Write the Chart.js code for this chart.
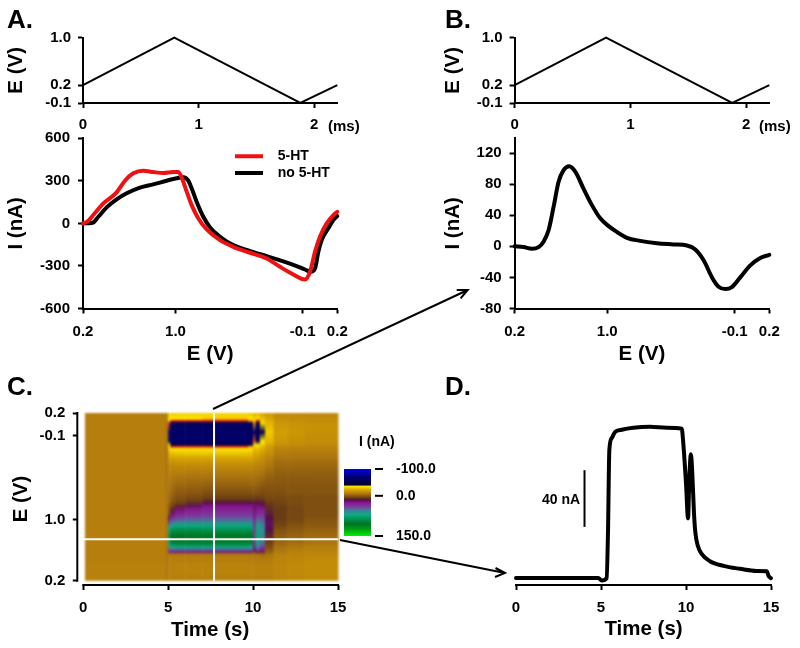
<!DOCTYPE html>
<html>
  <head>
    <title>5-HT voltammetry</title>
    <style>
      html, body { margin: 0; padding: 0; background: #fff; }
      #page { position: relative; width: 800px; height: 648px; overflow: hidden; font-family: "Liberation Sans", sans-serif; font-weight: bold; color: #000; }
      canvas { position: absolute; }
      .lab { position: absolute; white-space: pre; line-height: 1; }
      .panel { font-size: 26px; }
      .small { font-size: 14px; }
      .unit { font-size: 15px; }
      .title { font-size: 20.5px; }
      svg { position: absolute; left: 0; top: 0; }
    </style>
  </head>
  <body>
    <div id="page">
      <canvas id="aTop"></canvas>
      <canvas id="aMain"></canvas>
      <canvas id="bTop"></canvas>
      <canvas id="bMain"></canvas>
      <canvas id="cHeat"></canvas>
      <canvas id="cBar"></canvas>
      <canvas id="dTrace"></canvas>
      <svg width="800" height="648" fill="none" stroke="#000" stroke-width="2">
        <path d="M213 409L467.7 290M456.7 290L467.7 290L460.6 298.4"/>
        <path d="M340 540L505 573M495.5 568L505 573L495 577"/>
      </svg>
      <div class="lab panel" style="left:7px;top:6px">A.</div>
      <div class="lab panel" style="left:445px;top:6px">B.</div>
      <div class="lab panel" style="left:7px;top:373px">C.</div>
      <div class="lab panel" style="left:445px;top:373px">D.</div>
      <div class="lab unit" style="left:328px;top:118px">(ms)</div>
      <div class="lab unit" style="left:759px;top:118px">(ms)</div>
      <div class="lab small" style="left:359px;top:434px">I (nA)</div>
      <div class="lab small" style="left:542px;top:492px">40 nA</div>
      <div class="lab title" style="left:171px;top:619px">Time (s)</div>
    </div>
    <script src="https://cdn.jsdelivr.net/npm/chart.js"></script>
    <script>
// waveform, time in ms
const waveTime = [0, 0.79, 1.88, 2.2];
const waveE = [0.2, 1.0, -0.1, 0.2];

// panel A, cyclic voltammograms
const cvTimeRed = [0, .037, .089, .176, .291, .363, .435, .522, .608, .695, .781, .825, .862, .897, .94, .998, 1.07, 1.185, 1.3, 1.445, 1.589, 1.704, 1.82, 1.92, 1.964, 2.007, 2.05, 2.108, 2.166, 2.2];
const cvRed = [0, 12, 59, 141, 219, 301, 353, 372, 362, 355, 362, 362, 306, 224, 129, 35, -42, -118, -165, -207, -247, -306, -360, -395, -341, -200, -94, 0, 59, 82];
const cvTimeBlack = [0, .084, .133, .205, .291, .378, .493, .608, .724, .81, .868, .911, .94, .983, 1.041, 1.099, 1.185, 1.3, 1.445, 1.589, 1.733, 1.848, 1.92, 1.972, 2.007, 2.036, 2.065, 2.122, 2.166, 2.2];
const cvBlack = [0, 5, 47, 113, 169, 212, 252, 275, 301, 318, 325, 301, 247, 153, 47, -28, -94, -153, -195, -231, -268, -301, -325, -341, -318, -200, -118, -35, 24, 52];

// panel B, background subtracted
const diffTime = [0, .078, .15, .207, .25, .294, .337, .38, .423, .472, .524, .596, .668, .74, .812, .884, .97, 1.085, 1.229, 1.373, 1.489, 1.561, 1.633, 1.705, 1.762, 1.82, 1.877, 1.949, 2.036, 2.122, 2.2];
const diffI = [0, -1, -3, -1, 6, 21, 51, 83, 98, 103, 96, 74, 53, 36, 26, 18.5, 11, 7, 4, 2.5, 1, -4, -18, -40, -52, -55, -52.5, -40, -24.5, -15, -11];

// panel D, current vs time
const traceTime = [0, 1.8, 3.76, 4.84, 5.04, 5.33, 5.41, 5.49, 5.63, 5.82, 6.22, 6.9, 7.88, 8.86, 9.75, 9.84, 10, 10.12, 10.2, 10.29, 10.37, 10.47, 10.55, 10.7, 10.92, 11.41, 12.2, 13.18, 14.16, 14.75, 14.86, 15];
const traceI = [0, 0, 0, 0, -1.9, -.2, 31.5, 90, 98.6, 102.8, 104.5, 105.9, 106.6, 105.9, 105.2, 95, 66.8, 42, 71.5, 87.3, 73.9, 45.6, 32, 22.5, 17, 11.8, 8.5, 6.4, 4.9, 4.7, 1.4, -.2];
const scaleBarTime = [4.03, 4.03];
const scaleBarI = [36, 76];

// panel C, color plot: current at each sweep position (ms, top to bottom), one list per time slice
const heatSweep = [2.2, 2.16, 2.12, 2.1, 2.07, 1.95, 1.83, 1.78, 1.76, 1.73, 1.68, 1.61, 1.52, 1.39, 1.26, 1.15, 1.07, 1.02, .98, .93, .87, .82, .77, .72, .665, .6, .53, .48, .44, .4, .375, .35, .3, .2, .1, 0];
const heatEdges = [0.1, 4.85, 5, 5.12, 5.4, 6, 7, 9.7, 10, 10.15, 10.4, 10.7, 11.2, 12, 13, 15];
const colBase = [-10, -10, -10, -10, -10, -10, -10, -10, -10, -10, -10, -10, -10, -10, -10, -10, -10, -10, -10, -10, -10, -10, -10, -10, -10, -10, -10, -10, -10, -10, -10, -10, -10, -11, -11, -11];
const colEdge = [-12, -11, -10, -9, -8, -7, -7, -7, -7, -7, -7, -7, -7, -7, -7, -7, -7, -7, -7, -7, -7, -7, -7, -7, -7, -7, -7, -7, -7, -7, -7, -7, -7, -8, -8, -8];
const colOn1 = [-30, -33, -35, -36, -38.5, -62, -55, -36, -34, -31, -26, -20, -14, -10, -8, -6, -4, -2, 0, 3, 8, 15, 30, 55, 75, 88, 85, 75, 60, 40, 20, -8, -10, -11, -11, -10];
const colOn2 = [-30, -33, -36, -38.5, -58, -65, -65, -50, -38.5, -35, -29, -21, -14, -9, -6, -3, 0, 3, 6, 12, 22, 36, 52, 70, 88, 104, 106, 92, 70, 45, 24, -8, -10, -11, -11, -10];
const colOn3 = [-30, -33, -36, -38.5, -60, -66, -66, -52, -38.5, -36, -30, -22, -15, -9, -4, 0, 3, 6, 12, 22, 32, 42, 56, 72, 90, 106, 108, 94, 72, 45, 23, -8, -10, -12, -12, -10];
const colOn4 = [-30, -33, -36, -38.5, -60, -66, -66, -52, -38.5, -36, -30, -22, -15, -8, -3, 1, 5, 10, 18, 28, 36, 44, 58, 72, 90, 108, 108, 95, 72, 45, 22, -8, -10, -12, -12, -10];
const colPlateau = [-30, -33, -36.5, -38.5, -60, -66, -66, -52, -38.5, -36, -30, -22, -15, -8, -2, 3, 8, 15, 25, 30, 38, 45, 58, 72, 88, 108, 108, 95, 72, 45, 22, -8, -10, -12, -12, -10];
const colOff1 = [-29, -32, -35, -37, -58, -64, -64, -45, -37, -34, -29, -22, -15, -8, -3, 3, 8, 15, 25, 30, 38, 45, 58, 72, 88, 106, 106, 92, 70, 44, 20, -8, -10, -12, -12, -10];
const colNotch = [-25, -28, -31, -34, -37, -60, -38, -34, -30, -26, -22, -18, -13, -7, -3, 2, 8, 14, 18, 20, 22, 26, 30, 34, 36, 36, 34, 30, 24, 14, 4, -6, -9, -11, -11, -10];
const colLobe = [-27, -30, -35, -38.5, -60, -66, -60, -36, -32, -28, -24, -18, -13, -7, -2, 3, 9, 15, 22, 28, 35, 45, 60, 68, 72, 74, 72, 66, 55, 38, 18, -7, -9, -11, -11, -10];
const colTip = [-22, -25, -28, -30, -34, -50, -36, -30, -27, -24, -20, -16, -12, -6, 0, 4, 8, 14, 20, 28, 36, 42, 50, 56, 58, 58, 54, 48, 38, 24, 10, -5, -8, -11, -11, -10];
const colHalo = [-18, -20, -22, -24, -26, -30, -26, -22, -20, -18, -16, -12, -8, -3, 1, 3, 5, 8, 10, 11, 13, 15, 17, 17, 15, 12, 8, 6, 3, 0, -3, -6, -9, -11, -11, -10];
const colFade = [-14, -15, -16, -17, -18, -20, -18, -16, -14, -12, -10, -7, -4, -1, 1, 3, 5, 6, 7, 8, 8, 8, 7, 5, 2, 0, -2, -4, -6, -8, -9, -11, -12, -13, -13, -12];
const colFade2 = [-14, -15, -15, -16, -17, -18, -16, -15, -13, -11, -9, -7, -4, -1, 1, 2, 4, 4, 5, 5, 5, 5, 4, 2, 0, -2, -4, -6, -8, -10, -11, -12, -13, -14, -14, -13];
const colLate = [-14, -14, -15, -15, -16, -16, -15, -14, -12, -11, -9, -7, -4, -1, 1, 2, 3, 3, 3, 3, 3, 2, 1, 0, -2, -4, -6, -8, -10, -11, -12, -13, -14, -15, -15, -14];
const heatCols = [colBase, colEdge, colOn1, colOn2, colOn3, colOn4, colPlateau, colOff1, colNotch, colLobe, colTip, colHalo, colFade, colFade2, colLate];
const crossTime = 7.7;
const crossSweep = 0.543;

// color scale
const barLevels = [-100, -70, -45, -39, -38.5, -36, -25, -15, -8, 0, 8, 15, 25, 40, 55, 70, 85, 105, 125, 150];
const barColors = ['#0000eb', '#00006e', '#000040', '#0a0528', '#eb1e0a', '#ffeb00', '#e1af00', '#c38c08', '#af780f', '#8c5a0f', '#693c14', '#550f4b', '#87148c', '#7d3ca0', '#3c8296', '#0faa82', '#00965a', '#007323', '#00a014', '#00f000'];
const barTicks = [-100, 0, 150];
const barLabels = ['-100.0', '0.0', '150.0'];

function pts(xs, ys) { return xs.map((x, i) => ({x: x, y: ys[i]})); }

function colorOf(v) {
  if (v <= barLevels[0]) return barColors[0];
  for (let i = 1; i < barLevels.length; i++) {
    if (v <= barLevels[i]) {
      const f = (v - barLevels[i-1]) / (barLevels[i] - barLevels[i-1]);
      const a = barColors[i-1], b = barColors[i];
      let rgb = [1, 3, 5].map(k => {
        const c0 = parseInt(a.substr(k, 2), 16), c1 = parseInt(b.substr(k, 2), 16);
        return Math.round(c0 + (c1 - c0) * f);
      });
      return 'rgb(' + rgb.join(',') + ')';
    }
  }
  return barColors[barColors.length-1];
}

Chart.defaults.font.family = '"Liberation Sans", sans-serif';
Chart.defaults.color = '#000';
Chart.defaults.animation = false;

const tickFont = {size: 15, weight: 'bold'};
const titleFont = {size: 20.5, weight: 'bold'};

function line(xs, ys, color, width, label) {
  return {
    label: label, data: pts(xs, ys), showLine: true, borderColor: color, backgroundColor: color,
    borderWidth: width, pointRadius: 0, cubicInterpolationMode: 'monotone', clip: false,
    borderJoinStyle: 'round', borderCapStyle: 'round'
  };
}

function straight(xs, ys, color, width) {
  return Object.assign(line(xs, ys, color, width), {cubicInterpolationMode: 'default', tension: 0, borderJoinStyle: 'miter', borderCapStyle: 'butt'});
}

function axis(o, fitWidth, fitHeight) {
  const s = {
    type: 'linear', min: o.min, max: o.max, display: true,
    border: {display: o.border !== false, color: '#000', width: 2},
    grid: {drawOnChartArea: false, tickLength: o.tickLength || 5, tickColor: '#000', tickWidth: 2, display: !!o.ticks},
    ticks: {display: !!o.ticks, font: tickFont, padding: o.pad || 8, autoSkip: false, maxRotation: 0, callback: (v, i) => o.labels ? o.labels[i] : ''},
    afterBuildTicks: a => { if (o.ticks) a.ticks = o.ticks.map(v => ({value: v})); },
    afterFit: a => { if (fitWidth !== null) a.width = fitWidth; if (fitHeight !== null) a.height = fitHeight; }
  };
  if (o.title) s.title = {display: true, text: o.title, font: titleFont, padding: 4};
  return s;
}

// box and area are page pixels: [left, top, width, height] and [left, top, right, bottom]
// the box needs room around the area, the scales ask for tick padding + half a label
function panel(id, box, area, datasets, xo, yo, extra) {
  const c = document.getElementById(id);
  c.width = box[2]; c.height = box[3];
  c.style.left = box[0] + 'px'; c.style.top = box[1] + 'px';
  const legend = extra && extra.legend ? extra.legend : {display: false};
  return new Chart(c, {
    type: 'scatter',
    data: {datasets: datasets},
    options: {
      responsive: false,
      layout: {padding: {left: 0, top: area[1] - box[1], right: box[0] + box[2] - area[2], bottom: 0}},
      scales: {
        x: axis(xo, null, box[1] + box[3] - area[3]),
        y: axis(yo, area[0] - box[0], null)
      },
      plugins: {legend: legend, tooltip: {enabled: false}}
    },
    plugins: extra && extra.plugins ? extra.plugins : []
  });
}

// panel A
const msTicks = {min: 0, max: 2.2, ticks: [0, 1, 2], labels: ['0', '1', '2'], pad: 8};
const eTicks = {min: -0.1, max: 1.0, ticks: [-0.1, 0.2, 1.0], labels: ['-0.1', '0.2', '1.0'], title: 'E (V)', pad: 7};
const sweepTicks = [0, 0.8, 1.9, 2.2];
const sweepLabels = ['0.2', '1.0', '-0.1', '0.2'];

panel('aTop', [0, 15, 400, 125], [83, 37.7, 337.3, 103],
  [straight(waveTime, waveE, '#000', 2)], msTicks, eTicks);

// legend sits at a fixed spot inside the plot
const moveLegend = {
  id: 'moveLegend',
  afterLayout(chart) {
    const lg = chart.legend;
    lg.left = 232.2; lg.top = 28.5; lg.right = 400; lg.bottom = 180;
  }
};
panel('aMain', [0, 118, 400, 253], [83, 138.3, 337.3, 308.5],
  [line(cvTimeRed, cvRed, '#ee1111', 4, '5-HT'), line(cvTimeBlack, cvBlack, '#000', 4, 'no 5-HT')],
  {min: 0, max: 2.2, ticks: sweepTicks, labels: sweepLabels, title: 'E (V)', pad: 9},
  {min: -600, max: 600, ticks: [-600, -300, 0, 300, 600], labels: ['-600', '-300', '0', '300', '600'], title: 'I (nA)'},
  {
    plugins: [moveLegend],
    legend: {
      display: true, position: 'chartArea', align: 'start',
      labels: {
        boxWidth: 28, boxHeight: 4, padding: 2.8, font: {size: 14, weight: 'bold'},
        generateLabels: ch => Chart.defaults.plugins.legend.labels.generateLabels(ch).map(l => Object.assign(l, {text: '  ' + l.text, lineWidth: 0}))
      }
    }
  });

// panel B
panel('bTop', [436.7, 15, 363, 125], [514.3, 37.7, 769, 103],
  [straight(waveTime, waveE, '#000', 2)], msTicks, eTicks);
panel('bMain', [436.7, 118, 363, 253], [514.3, 138.3, 769, 308.5],
  [line(diffTime, diffI, '#000', 4)],
  {min: 0, max: 2.2, ticks: sweepTicks, labels: sweepLabels, title: 'E (V)', pad: 9},
  {min: -80, max: 139, ticks: [-80, -40, 0, 40, 80, 120], labels: ['-80', '-40', '0', '40', '80', '120'], title: 'I (nA)'});

// panel C
const heatmap = {
  id: 'heatmap',
  beforeDatasetsDraw(chart) {
    const {ctx, scales: {x, y}} = chart;
    const top = y.getPixelForValue(heatSweep[0]);
    const bot = y.getPixelForValue(heatSweep[heatSweep.length-1]);
    const off = document.createElement('canvas');
    off.width = chart.width; off.height = chart.height;
    const oc = off.getContext('2d');
    heatCols.forEach((col, i) => {
      const x0 = x.getPixelForValue(heatEdges[i]), x1 = x.getPixelForValue(heatEdges[i+1]);
      const g = oc.createLinearGradient(0, top, 0, bot);
      col.forEach((v, k) => g.addColorStop((y.getPixelForValue(heatSweep[k]) - top) / (bot - top), colorOf(v)));
      oc.fillStyle = g;
      oc.fillRect(x0, top, x1 - x0 + 0.5, bot - top);
    });
    // the plot is a little soft, steps between slices should not show
    ctx.save();
    ctx.filter = 'blur(0.8px)';
    ctx.drawImage(off, 0, 0);
    ctx.restore();
  },
  afterDraw(chart) {
    // the axes stand clear of the image and only span its range
    const {ctx, scales: {x, y}} = chart;
    ctx.save();
    ctx.strokeStyle = '#000';
    ctx.lineWidth = 2;
    ctx.beginPath();
    ctx.moveTo(x.left, y.getPixelForValue(2.2) - 1);
    ctx.lineTo(x.left, y.getPixelForValue(0) + 1);
    ctx.moveTo(x.getPixelForValue(0) - 1, y.bottom);
    ctx.lineTo(x.getPixelForValue(15) + 1, y.bottom);
    ctx.stroke();
    ctx.restore();
  }
};
panel('cHeat', [4.7, 390, 395, 256], [77, 413, 337.7, 585],
  [straight([crossTime, crossTime], [0, 2.2], '#fff', 2), straight([0, 15], [crossSweep, crossSweep], '#fff', 2)],
  {min: -0.353, max: 15, ticks: [0, 5, 10, 15], labels: ['0', '5', '10', '15'], border: false, pad: 9},
  {min: -0.056, max: 2.2, ticks: sweepTicks, labels: sweepLabels, title: 'E (V)', border: false, tickLength: 4.5, pad: 7.5},
  {plugins: [heatmap]});

// color bar, the dashes stand off from the bar
const barDash = {
  id: 'barDash',
  afterDraw(chart) {
    const {ctx, scales: {y}} = chart;
    ctx.save();
    ctx.strokeStyle = '#000';
    ctx.lineWidth = 2;
    y.ticks.forEach(t => {
      const p = y.getPixelForValue(t.value);
      ctx.beginPath();
      ctx.moveTo(35, p);
      ctx.lineTo(43, p);
      ctx.stroke();
    });
    ctx.restore();
  }
};
const cBarCanvas = document.getElementById('cBar');
cBarCanvas.width = 100; cBarCanvas.height = 129;
cBarCanvas.style.left = '340px'; cBarCanvas.style.top = '437.5px';
new Chart(cBarCanvas, {
  type: 'bar',
  data: {
    labels: ['I (nA)'],
    datasets: [{
      data: [[barLevels[0], barLevels[barLevels.length-1]]],
      barPercentage: 1,
      categoryPercentage: 1,
      backgroundColor: ({chart}) => {
        if (!chart.chartArea) return '#000';
        const y = chart.scales.y;
        const g = chart.ctx.createLinearGradient(0, y.getPixelForValue(-100), 0, y.getPixelForValue(150));
        barLevels.forEach((v, i) => g.addColorStop((v + 100) / 250, barColors[i]));
        return g;
      }
    }]
  },
  options: {
    responsive: false,
    layout: {padding: {left: 4, top: 31, right: 0, bottom: 31}},
    scales: {
      x: {display: false},
      y: {
        position: 'right', min: -100, max: 150, reverse: true,
        border: {display: false},
        grid: {display: false},
        ticks: {font: {size: 14, weight: 'bold'}, padding: 17, autoSkip: false, callback: (v, i) => barLabels[i]},
        afterBuildTicks: a => { a.ticks = barTicks.map(v => ({value: v})); },
        afterFit: a => { a.width = 69; }
      }
    },
    plugins: {legend: {display: false}, tooltip: {enabled: false}}
  },
  plugins: [barDash]
});

// panel D
panel('dTrace', [480, 390, 320, 256], [516, 422, 771, 585],
  [straight(scaleBarTime, scaleBarI, '#000', 2), line(traceTime, traceI, '#000', 4)],
  {min: 0, max: 15, ticks: [0, 5, 10, 15], labels: ['0', '5', '10', '15'], title: 'Time (s)', pad: 9},
  {min: -5, max: 110, border: false});
    </script>
  </body>
</html>
